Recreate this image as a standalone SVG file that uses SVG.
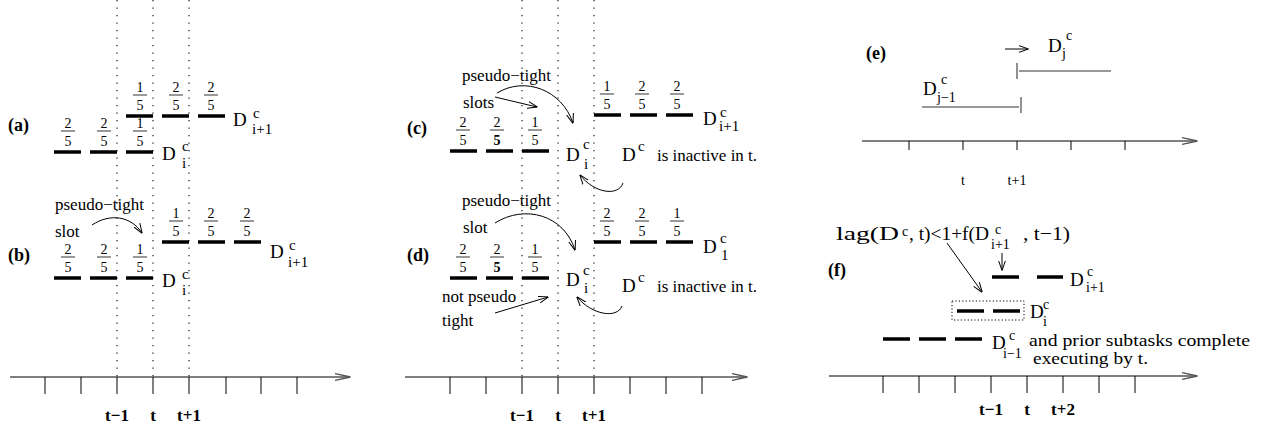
<svg xmlns="http://www.w3.org/2000/svg" width="1265" height="431" viewBox="0 0 1265 431" font-family="'Liberation Serif', 'Times New Roman', serif">
<style>
text{font-family:"Liberation Serif","Times New Roman",serif;fill:#000}
.bar{stroke:#000;stroke-width:3.5}
.dot{stroke:#000;stroke-width:1.1;stroke-dasharray:1.3 6.2}
.axis{stroke:#555;stroke-width:1.5;fill:none}
.tick{stroke:#000;stroke-width:1}
.fr{font-size:14px;text-anchor:middle}
.fl{stroke:#000;stroke-width:0.8}
.lbl{font-size:18px;font-weight:bold}
.tl{font-size:17px;font-weight:bold;text-anchor:middle}
.D{font-size:19px}
.s{font-size:15px}
.ss{font-size:14px}
.w{font-size:17px}
.arr{fill:none;stroke:#000;stroke-width:1}
.gl{stroke:#777;stroke-width:1.6;fill:none}
</style>
<defs>
<marker id="ah" viewBox="0 0 10 8" refX="9.5" refY="4" markerWidth="10" markerHeight="8" markerUnits="userSpaceOnUse" orient="auto"><path d="M0,0.5 L10,4 L0,7.5" fill="none" stroke="#000" stroke-width="1"/></marker>
<marker id="axh" viewBox="0 0 16 8" refX="15.5" refY="4" markerWidth="16" markerHeight="8" markerUnits="userSpaceOnUse" orient="auto"><path d="M0,0.5 L16,4 L0,7.5" fill="none" stroke="#555" stroke-width="1.3"/></marker>
</defs>
<rect width="1265" height="431" fill="#fff"/>

<!-- ===== Left panel (a)/(b) ===== -->
<g id="left-guides">
<line class="dot" x1="117" y1="0" x2="117" y2="377"/>
<line class="dot" x1="153" y1="0" x2="153" y2="377"/>
<line class="dot" x1="189" y1="0" x2="189" y2="377"/>
</g>
<g id="left-axis">
<path class="axis" d="M10,377 L350,377" marker-end="url(#axh)"/>
<path class="tick" d="M45,377V394M81,377V394M117,377V394M153,377V394M189,377V394M226,377V394M261,377V394M297,377V394"/>
<text class="tl" x="117" y="421">t−1</text>
<text class="tl" x="153" y="421">t</text>
<text class="tl" x="189" y="421">t+1</text>
</g>

<g id="panel-a">
<text class="lbl" x="8" y="131">(a)</text>
<path class="bar" d="M54,152H81M90,152H117M126,152H153"/>
<path class="bar" d="M126,116H153M162,116H189M198,116H225"/>
<text class="fr" x="68" y="128">2</text><line class="fl" x1="61" x2="75" y1="131" y2="131"/><text class="fr" x="68" y="146">5</text>
<text class="fr" x="104" y="128">2</text><line class="fl" x1="97" x2="111" y1="131" y2="131"/><text class="fr" x="104" y="146">5</text>
<text class="fr" x="140" y="128">1</text><line class="fl" x1="133" x2="147" y1="131" y2="131"/><text class="fr" x="140" y="146">5</text>
<text class="fr" x="140" y="92">1</text><line class="fl" x1="133" x2="147" y1="95" y2="95"/><text class="fr" x="140" y="110">5</text>
<text class="fr" x="176" y="92">2</text><line class="fl" x1="169" x2="183" y1="95" y2="95"/><text class="fr" x="176" y="110">5</text>
<text class="fr" x="211" y="92">2</text><line class="fl" x1="204" x2="218" y1="95" y2="95"/><text class="fr" x="211" y="110">5</text>
<text class="D" x="233" y="126">D</text><text class="s" x="253" y="118">c</text><text class="s" x="252" y="134">i+1</text>
<text class="D" x="162" y="160">D</text><text class="s" x="182" y="151">c</text><text class="s" x="182" y="168">i</text>
</g>

<g id="panel-b">
<text class="lbl" x="8" y="261">(b)</text>
<text class="w" x="55" y="210">pseudo−tight</text>
<text class="w" x="55" y="237">slot</text>
<path class="bar" d="M54,278H81M90,278H117M126,278H153"/>
<path class="bar" d="M162,242H189M198,242H225M234,242H261"/>
<text class="fr" x="68" y="254">2</text><line class="fl" x1="61" x2="75" y1="257" y2="257"/><text class="fr" x="68" y="272">5</text>
<text class="fr" x="104" y="254">2</text><line class="fl" x1="97" x2="111" y1="257" y2="257"/><text class="fr" x="104" y="272">5</text>
<text class="fr" x="140" y="254">1</text><line class="fl" x1="133" x2="147" y1="257" y2="257"/><text class="fr" x="140" y="272">5</text>
<text class="fr" x="176" y="218">1</text><line class="fl" x1="169" x2="183" y1="221" y2="221"/><text class="fr" x="176" y="236">5</text>
<text class="fr" x="211" y="218">2</text><line class="fl" x1="204" x2="218" y1="221" y2="221"/><text class="fr" x="211" y="236">5</text>
<text class="fr" x="247" y="218">2</text><line class="fl" x1="240" x2="254" y1="221" y2="221"/><text class="fr" x="247" y="236">5</text>
<text class="D" x="270" y="258">D</text><text class="s" x="289" y="250">c</text><text class="s" x="288" y="267">i+1</text>
<text class="D" x="162" y="287">D</text><text class="s" x="182" y="279">c</text><text class="s" x="182" y="295">i</text>
</g>

<!-- ===== Middle panel (c)/(d) ===== -->
<g id="mid-guides">
<line class="dot" x1="522" y1="0" x2="522" y2="377"/>
<line class="dot" x1="558" y1="0" x2="558" y2="377"/>
<line class="dot" x1="594" y1="0" x2="594" y2="377"/>
</g>
<g id="mid-axis">
<path class="axis" d="M405,377 L747,377" marker-end="url(#axh)"/>
<path class="tick" d="M450,377V394M486,377V394M522,377V394M558,377V394M594,377V394M630,377V394M666,377V394M702,377V394"/>
<text class="tl" x="522" y="421">t−1</text>
<text class="tl" x="558" y="421">t</text>
<text class="tl" x="594" y="421">t+1</text>
</g>

<g id="panel-c">
<text class="lbl" x="407" y="134">(c)</text>
<text class="w" x="462" y="81">pseudo−tight</text>
<text class="w" x="463" y="108">slots</text>
<path class="bar" d="M450,151H477M486,151H513M522,151H549"/>
<path class="bar" d="M594,115H621M630,115H657M666,115H693"/>
<text class="fr" x="463" y="127">2</text><line class="fl" x1="456" x2="470" y1="130" y2="130"/><text class="fr" x="463" y="145">5</text>
<text class="fr" x="497" y="127">2</text><line class="fl" x1="490" x2="504" y1="130" y2="130"/><text class="fr" x="497" y="145" font-weight="bold">5</text>
<text class="fr" x="535" y="127">1</text><line class="fl" x1="528" x2="542" y1="130" y2="130"/><text class="fr" x="535" y="145">5</text>
<text class="fr" x="607" y="91">1</text><line class="fl" x1="600" x2="614" y1="94" y2="94"/><text class="fr" x="607" y="109">5</text>
<text class="fr" x="642" y="91">2</text><line class="fl" x1="635" x2="649" y1="94" y2="94"/><text class="fr" x="642" y="109">5</text>
<text class="fr" x="677" y="91">2</text><line class="fl" x1="670" x2="684" y1="94" y2="94"/><text class="fr" x="677" y="109">5</text>
<text class="D" x="703" y="125">D</text><text class="s" x="720" y="117">c</text><text class="s" x="719" y="131">i+1</text>
<text class="D" x="566" y="161">D</text><text class="s" x="583" y="149">c</text><text class="s" x="584" y="169">i</text>
<text class="D" x="622" y="161">D</text><text class="s" x="638" y="151">c</text>
<text class="w" x="657" y="161">is inactive in t.</text>
</g>

<g id="panel-d">
<text class="lbl" x="407" y="261">(d)</text>
<text class="w" x="462" y="206">pseudo−tight</text>
<text class="w" x="463" y="233">slot</text>
<text class="w" x="442" y="302">not pseudo</text>
<text class="w" x="442" y="326">tight</text>
<path class="bar" d="M450,278H477M486,278H513M522,278H549"/>
<path class="bar" d="M594,242H621M630,242H657M666,242H693"/>
<text class="fr" x="463" y="254">2</text><line class="fl" x1="456" x2="470" y1="257" y2="257"/><text class="fr" x="463" y="272">5</text>
<text class="fr" x="497" y="254">2</text><line class="fl" x1="490" x2="504" y1="257" y2="257"/><text class="fr" x="497" y="272" font-weight="bold">5</text>
<text class="fr" x="535" y="254">1</text><line class="fl" x1="528" x2="542" y1="257" y2="257"/><text class="fr" x="535" y="272">5</text>
<text class="fr" x="607" y="218">2</text><line class="fl" x1="600" x2="614" y1="221" y2="221"/><text class="fr" x="607" y="236">5</text>
<text class="fr" x="642" y="218">2</text><line class="fl" x1="635" x2="649" y1="221" y2="221"/><text class="fr" x="642" y="236">5</text>
<text class="fr" x="677" y="218">1</text><line class="fl" x1="670" x2="684" y1="221" y2="221"/><text class="fr" x="677" y="236">5</text>
<text class="D" x="703" y="253">D</text><text class="s" x="720" y="243">c</text><text class="s" x="721" y="260">1</text>
<text class="D" x="566" y="286">D</text><text class="s" x="583" y="275">c</text><text class="s" x="584" y="293">i</text>
<text class="D" x="622" y="292">D</text><text class="s" x="638" y="282">c</text>
<text class="w" x="657" y="292">is inactive in t.</text>
</g>

<!-- ===== Panel (e) ===== -->
<g id="panel-e">
<text class="lbl" x="866" y="59">(e)</text>
<path class="axis" d="M862,141 L1197,141" marker-end="url(#axh)"/>
<path class="tick" d="M909,141V150M963,141V150M1017,141V150M1071,141V150M1125,141V150"/>
<text x="963" y="185" font-size="14" text-anchor="middle">t</text>
<text x="1017" y="185" font-size="14" text-anchor="middle">t+1</text>
<path class="gl" d="M922,107H1019M1021,97V113"/>
<path class="gl" d="M1019,71H1111M1017,63V79"/>
<text class="D" x="923" y="95" font-size="18">D</text><text class="ss" x="941" y="84">c</text><text class="ss" x="937" y="102">j−1</text>
<text class="D" x="1048" y="52" font-size="18">D</text><text class="ss" x="1066" y="40">c</text><text class="ss" x="1062" y="58">j</text>
</g>

<!-- ===== Panel (f) ===== -->
<g id="panel-f">
<text class="lbl" x="828" y="276">(f)</text>
<path class="axis" d="M829,376 L1197,376" marker-end="url(#axh)"/>
<path class="tick" d="M883,376V393M919,376V393M955,376V393M991,376V393M1027,376V393M1063,376V393M1099,376V393M1135,376V393"/>
<text class="tl" x="991" y="415">t−1</text>
<text class="tl" x="1027" y="415">t</text>
<text class="tl" x="1063" y="415">t+2</text>
<text x="836" y="240" font-size="19" textLength="63" lengthAdjust="spacingAndGlyphs">lag(D</text>
<text class="ss" x="902" y="236">c</text>
<text x="909" y="240" font-size="19" textLength="80" lengthAdjust="spacingAndGlyphs">, t)&lt;1+f(D</text>
<text class="ss" x="995" y="234">c</text>
<text class="ss" x="991" y="249">i+1</text>
<text x="1023" y="240" font-size="19" textLength="47" lengthAdjust="spacingAndGlyphs">, t−1)</text>
<path class="bar" d="M992,277H1019M1037,277H1063"/>
<path class="bar" d="M957,311H984M993,311H1020"/>
<rect x="952" y="301" width="72" height="19" fill="none" stroke="#000" stroke-width="1" stroke-dasharray="1.2 2.2"/>
<path class="bar" d="M883,339H910M919,339H946M955,339H982"/>
<text class="D" x="1070" y="286" font-size="17">D</text><text class="ss" x="1087" y="276">c</text><text class="ss" x="1086" y="292">i+1</text>
<text class="D" x="1030" y="318" font-size="17">D</text><text class="ss" x="1043" y="309">c</text><text class="ss" x="1043" y="326">i</text>
<text class="D" x="992" y="349" font-size="17">D</text><text class="ss" x="1009" y="340">c</text><text class="ss" x="1003" y="358">i−1</text>
<text x="1029" y="346" font-size="17" textLength="221" lengthAdjust="spacingAndGlyphs">and prior subtasks complete</text>
<text x="1033" y="364" font-size="17" textLength="115" lengthAdjust="spacingAndGlyphs">executing by t.</text>
</g>

<!-- ===== Connectors ===== -->
<g id="connectors">
<path class="arr" d="M92,225 C110,213 131,216 142,233" marker-end="url(#ah)"/>
<path class="arr" d="M497,93 C525,76 562,90 573,123" marker-end="url(#ah)"/>
<path class="arr" d="M495,97 L537,107" marker-end="url(#ah)"/>
<path class="arr" d="M623,183 C618,197 594,193 580,175" marker-end="url(#ah)"/>
<path class="arr" d="M495,223 C525,204 564,215 575,250" marker-end="url(#ah)"/>
<path class="arr" d="M495,313 L548,297" marker-end="url(#ah)"/>
<path class="arr" d="M622,306 C617,319 592,315 577,297" marker-end="url(#ah)"/>
<path class="arr" d="M947,243 L982,292" marker-end="url(#ah)"/>
<path class="arr" d="M1002,253 L1002,270" marker-end="url(#ah)"/>
<path class="arr" d="M1005,49 L1028,49" marker-end="url(#ah)"/>
</g>
</svg>
